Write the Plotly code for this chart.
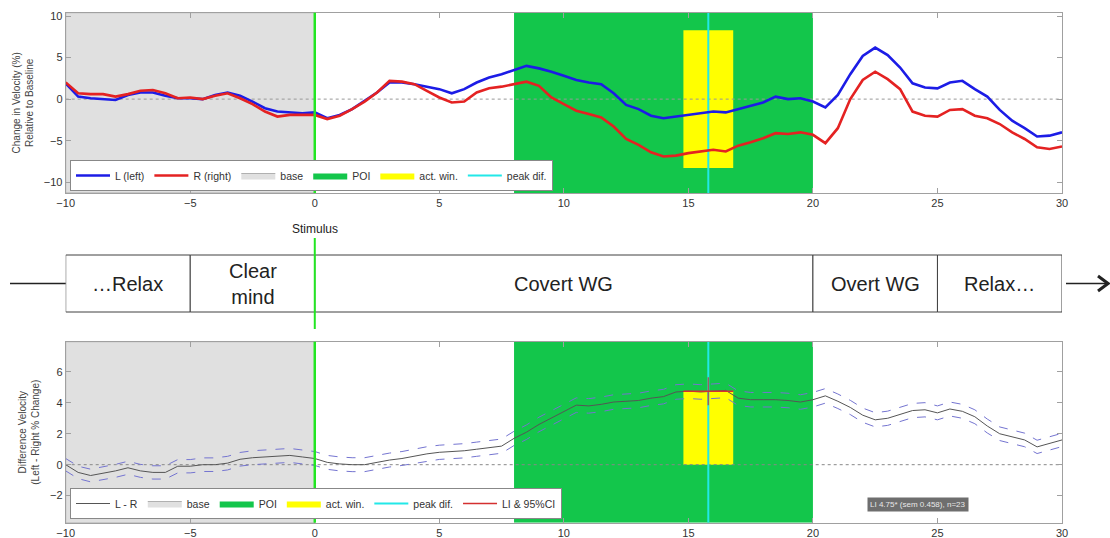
import plotly.graph_objects as go

# ---------------- data ----------------
t = [-10 + 0.5 * i for i in range(81)]

vel_left = [1.9, 0.3, 0.1, 0.0, -0.1, 0.5, 0.8, 0.8, 0.4, 0.1,
            0.1, 0.0, 0.5, 0.8, 0.4, -0.3, -1.1, -1.5, -1.6, -1.7,
            -1.6, -2.3, -1.9, -1.2, -0.2, 0.8, 2.0, 2.0, 1.8, 1.5,
            1.2, 0.7, 1.2, 2.0, 2.6, 3.0, 3.5, 4.0, 3.7, 3.3,
            2.8, 2.3, 2.0, 1.8, 0.7, -0.7, -1.2, -2.0, -2.3, -2.1,
            -1.9, -1.7, -1.5, -1.6, -1.2, -0.8, -0.4, 0.3, 0.0, 0.1,
            -0.3, -1.0, 0.5, 3.0, 5.2, 6.2, 5.3, 3.8, 1.9, 1.4,
            1.3, 2.0, 2.2, 1.2, 0.3, -1.3, -2.6, -3.5, -4.5, -4.4,
            -4.0]

vel_right = [2.0, 0.7, 0.6, 0.6, 0.3, 0.6, 1.0, 1.1, 0.7, 0.1,
             0.2, 0.0, 0.4, 0.7, 0.1, -0.6, -1.5, -2.1, -1.9, -1.9,
             -1.9, -2.4, -2.0, -1.2, -0.3, 0.8, 2.2, 2.1, 1.8, 1.0,
             0.2, -0.4, -0.3, 0.8, 1.3, 1.5, 1.8, 2.1, 1.6, 0.2,
             -0.6, -1.4, -1.8, -2.2, -3.3, -4.8, -5.5, -6.4, -6.9, -6.8,
             -6.5, -6.3, -6.1, -6.3, -5.6, -5.2, -4.7, -4.1, -4.2, -4.0,
             -4.3, -5.3, -3.5, 0.0, 2.3, 3.3, 2.4, 1.2, -1.5, -2.0,
             -2.1, -1.3, -1.2, -2.0, -2.3, -3.0, -4.0, -4.8, -5.8, -6.0,
             -5.7]

diff_lr = [0.0, -0.5, -0.7, -0.55, -0.4, -0.2, -0.4, -0.5, -0.5, -0.1,
           -0.1, 0.0, 0.0, 0.1, 0.35, 0.45, 0.5, 0.55, 0.6, 0.5,
           0.4, 0.15, 0.05, 0.0, 0.0, 0.15, 0.3, 0.4, 0.55, 0.7,
           0.8, 0.85, 0.9, 1.0, 1.1, 1.2, 1.7, 2.1, 2.6, 3.0,
           3.4, 3.85, 3.8, 3.9, 4.05, 4.1, 4.15, 4.3, 4.4, 4.7,
           4.75, 4.7, 4.75, 4.8, 4.3, 4.2, 4.2, 4.2, 4.15, 4.05,
           4.2, 4.45, 4.1, 3.7, 3.2, 2.9, 3.0, 3.25, 3.5, 3.55,
           3.35, 3.6, 3.45, 3.1, 2.5, 2.0, 1.8, 1.6, 1.15, 1.4,
           1.6]

ci_half = [0.40, 0.40, 0.41, 0.41, 0.42, 0.42, 0.42, 0.43, 0.43, 0.43,
           0.43, 0.44, 0.44, 0.44, 0.44, 0.45, 0.45, 0.45, 0.45, 0.45,
           0.45, 0.45, 0.45, 0.45, 0.45, 0.45, 0.45, 0.45, 0.46, 0.46,
           0.46, 0.46, 0.46, 0.46, 0.46, 0.46, 0.46, 0.47, 0.47, 0.47,
           0.47, 0.47, 0.47, 0.47, 0.47, 0.47, 0.47, 0.47, 0.47, 0.47,
           0.47, 0.47, 0.47, 0.47, 0.47, 0.47, 0.47, 0.47, 0.47, 0.47,
           0.47, 0.47, 0.47, 0.46, 0.46, 0.46, 0.46, 0.46, 0.46, 0.46,
           0.45, 0.45, 0.45, 0.45, 0.45, 0.44, 0.44, 0.44, 0.43, 0.43,
           0.43]

base_win = [-10, 0]
poi_win = [8, 20]
act_win = [14.8, 16.8]
act_win_top = [-8.3, 8.3]
peak_t = 15.8
li_value = 4.75
li_ci95 = 0.9
li_text = "LI 4.75* (sem 0.458), n=23"

phase_edges = [-10, -5, 0, 20, 25, 30]
phase_labels = ["…Relax", "Clear<br>mind", "Covert WG", "Overt WG", "Relax…"]

top_range = [-11.3, 10.4]
bot_range = [-3.75, 7.95]

# ---------------- styles ----------------
BLUE = "#1c1ce6"
RED = "#e42222"
GRAY_BASE = "#e0e0e0"
GREEN_POI = "#13c64b"
YELLOW = "#ffff00"
CYAN = "#22e8e8"
STIM = "#22e622"
FONT = "Liberation Sans, Arial, sans-serif"

W, H = 1110, 538


def px_y(p):
    return 1 - p / H


def px_x(p):
    return p / W


fig = go.Figure()


def rect(x0, x1, y0, y1, color, name, show, xa, ya, group, rank, linecolor=None):
    fig.add_trace(go.Scatter(
        x=[x0, x1, x1, x0, x0], y=[y0, y0, y1, y1, y0], mode="lines",
        fill="toself", fillcolor=color,
        line=dict(color=linecolor or color, width=0.8 if linecolor else 0),
        name=name, showlegend=show, legend=group, legendrank=rank,
        xaxis=xa, yaxis=ya, hoverinfo="skip"))


# ---- top panel ----
rect(base_win[0], base_win[1], top_range[0], top_range[1], GRAY_BASE, "base", True, "x", "y", "legend", 3, "#a0a0a0")
rect(poi_win[0], poi_win[1], top_range[0], top_range[1], GREEN_POI, "POI", True, "x", "y", "legend", 4)
rect(act_win[0], act_win[1], act_win_top[0], act_win_top[1], YELLOW, "act. win.", True, "x", "y", "legend", 5)
fig.add_trace(go.Scatter(x=[t[0], t[-1]], y=[0, 0], mode="lines",
                         line=dict(color="#999999", width=1, dash="dot"),
                         showlegend=False, xaxis="x", yaxis="y", hoverinfo="skip"))
fig.add_trace(go.Scatter(x=[peak_t, peak_t], y=top_range, mode="lines",
                         line=dict(color=CYAN, width=2), name="peak dif.",
                         legend="legend", legendrank=6, xaxis="x", yaxis="y"))
fig.add_trace(go.Scatter(x=t, y=vel_left, mode="lines", line=dict(color=BLUE, width=2.6),
                         name="L (left)", legend="legend", legendrank=1, xaxis="x", yaxis="y"))
fig.add_trace(go.Scatter(x=t, y=vel_right, mode="lines", line=dict(color=RED, width=2.6),
                         name="R (right)", legend="legend", legendrank=2, xaxis="x", yaxis="y"))

# ---- bottom panel ----
rect(base_win[0], base_win[1], bot_range[0], bot_range[1], GRAY_BASE, "base", True, "x2", "y2", "legend2", 2, "#a0a0a0")
rect(poi_win[0], poi_win[1], bot_range[0], bot_range[1], GREEN_POI, "POI", True, "x2", "y2", "legend2", 3)
rect(act_win[0], act_win[1], 0, li_value, YELLOW, "act. win.", True, "x2", "y2", "legend2", 4)
fig.add_trace(go.Scatter(x=[t[0], t[-1]], y=[0, 0], mode="lines",
                         line=dict(color="#888888", width=1, dash="dot"),
                         showlegend=False, xaxis="x2", yaxis="y2", hoverinfo="skip"))
fig.add_trace(go.Scatter(x=[peak_t, peak_t], y=bot_range, mode="lines",
                         line=dict(color=CYAN, width=2), name="peak dif.",
                         legend="legend2", legendrank=5, xaxis="x2", yaxis="y2"))
upper = [d + c for d, c in zip(diff_lr, ci_half)]
lower = [d - c for d, c in zip(diff_lr, ci_half)]
for band in (upper, lower):
    fig.add_trace(go.Scatter(x=t, y=band, mode="lines",
                             line=dict(color="#7474d0", width=1, dash="dash"),
                             showlegend=False, xaxis="x2", yaxis="y2", hoverinfo="skip"))
fig.add_trace(go.Scatter(x=t, y=diff_lr, mode="lines", line=dict(color="#555555", width=1),
                         name="L - R", legend="legend2", legendrank=1, xaxis="x2", yaxis="y2"))
fig.add_trace(go.Scatter(x=[peak_t, peak_t], y=[li_value - li_ci95, li_value + li_ci95], mode="lines",
                         line=dict(color="#9a6060", width=1.5), showlegend=False,
                         xaxis="x2", yaxis="y2", hoverinfo="skip"))
fig.add_trace(go.Scatter(x=act_win, y=[li_value, li_value], mode="lines",
                         line=dict(color="#d43030", width=1.5), name="LI & 95%CI",
                         legend="legend2", legendrank=6, xaxis="x2", yaxis="y2"))

# ---- layout ----
x_dom = [px_x(65.7), px_x(1062)]
axis_common = dict(showline=True, linecolor="#a0a0a0", linewidth=1, mirror="ticks",
                   ticks="inside", ticklen=5, tickcolor="#a0a0a0", showgrid=False,
                   zeroline=False, automargin=False,
                   tickfont=dict(family=FONT, size=11, color="#333333"))

fig.update_layout(
    width=W, height=H, margin=dict(l=0, r=0, t=0, b=0, autoexpand=False),
    paper_bgcolor="white", plot_bgcolor="white",
    font=dict(family=FONT, color="#333333"),
    xaxis=dict(domain=x_dom, range=[-10, 30], anchor="y", tickvals=[-10, -5, 0, 5, 10, 15, 20, 25, 30], **axis_common),
    yaxis=dict(domain=[px_y(193), px_y(12.7)], range=top_range, anchor="x",
               tickvals=[-10, -5, 0, 5, 10],
               title=dict(text="Change in Velocity (%)<br>Relative to Baseline",
                          font=dict(size=10, color="#444444"), standoff=8), **axis_common),
    xaxis2=dict(domain=x_dom, range=[-10, 30], anchor="y2", tickvals=[-10, -5, 0, 5, 10, 15, 20, 25, 30], **axis_common),
    yaxis2=dict(domain=[px_y(522.7), px_y(341.7)], range=bot_range, anchor="x2",
                tickvals=[-2, 0, 2, 4, 6],
                title=dict(text="Difference Velocity<br>(Left - Right % Change)",
                           font=dict(size=10, color="#444444"), standoff=8), **axis_common),
    legend=dict(orientation="h", x=px_x(70), y=px_y(191), xanchor="left", yanchor="bottom",
                bgcolor="white", bordercolor="#888888", borderwidth=1,
                font=dict(family=FONT, size=10.5, color="#333333"), itemwidth=34,
                tracegroupgap=0),
    legend2=dict(orientation="h", x=px_x(70), y=px_y(519), xanchor="left", yanchor="bottom",
                 bgcolor="white", bordercolor="#888888", borderwidth=1,
                 font=dict(family=FONT, size=10.5, color="#333333"), itemwidth=34,
                 tracegroupgap=0),
    showlegend=True,
)

# stimulus lines through both panels
for ya in ("y", "y2"):
    fig.add_shape(type="line", xref="x" if ya == "y" else "x2", yref=f"{ya} domain",
                  x0=0, x1=0, y0=0, y1=1, line=dict(color=STIM, width=2.5), layer="above")

# ---- middle timeline ----
box_top, box_bot = px_y(255), px_y(312)
box_mid = (box_top + box_bot) / 2
for i, lab in enumerate(phase_labels):
    fig.add_shape(type="rect", xref="x", yref="paper", x0=phase_edges[i], x1=phase_edges[i + 1],
                  y0=box_bot, y1=box_top, line=dict(color="#404040", width=1), fillcolor="white")
    fig.add_annotation(x=(phase_edges[i] + phase_edges[i + 1]) / 2, y=box_mid, xref="x", yref="paper",
                       text=lab, showarrow=False, font=dict(family=FONT, size=20, color="#222222"))
fig.add_shape(type="line", xref="paper", yref="paper", x0=px_x(10), x1=x_dom[0], y0=box_mid, y1=box_mid,
              line=dict(color="#222222", width=1.5))
fig.add_shape(type="line", xref="paper", yref="paper", x0=px_x(1066), x1=px_x(1107), y0=box_mid, y1=box_mid,
              line=dict(color="#222222", width=1.5))
fig.add_shape(type="path", xref="paper", yref="paper",
              path=f"M {px_x(1098)},{px_y(276)} L {px_x(1108)},{box_mid} L {px_x(1098)},{px_y(291)}",
              line=dict(color="#222222", width=3))
fig.add_shape(type="line", xref="x", yref="paper", x0=0, x1=0, y0=px_y(329), y1=px_y(238),
              line=dict(color=STIM, width=2))
fig.add_annotation(x=0, y=px_y(229), xref="x", yref="paper", text="Stimulus", showarrow=False,
                   font=dict(family=FONT, size=12, color="#222222"))

# LI annotation box
fig.add_annotation(x=24.2, y=-2.6, xref="x2", yref="y2", text=li_text, showarrow=False,
                   bgcolor="#6e6e6e", font=dict(family=FONT, size=8, color="#e8e8e8"), borderpad=2)

fig.write_html("out.html", config={"displayModeBar": False},
               post_script="document.body.style.margin='0px';document.body.style.overflow='hidden';")
